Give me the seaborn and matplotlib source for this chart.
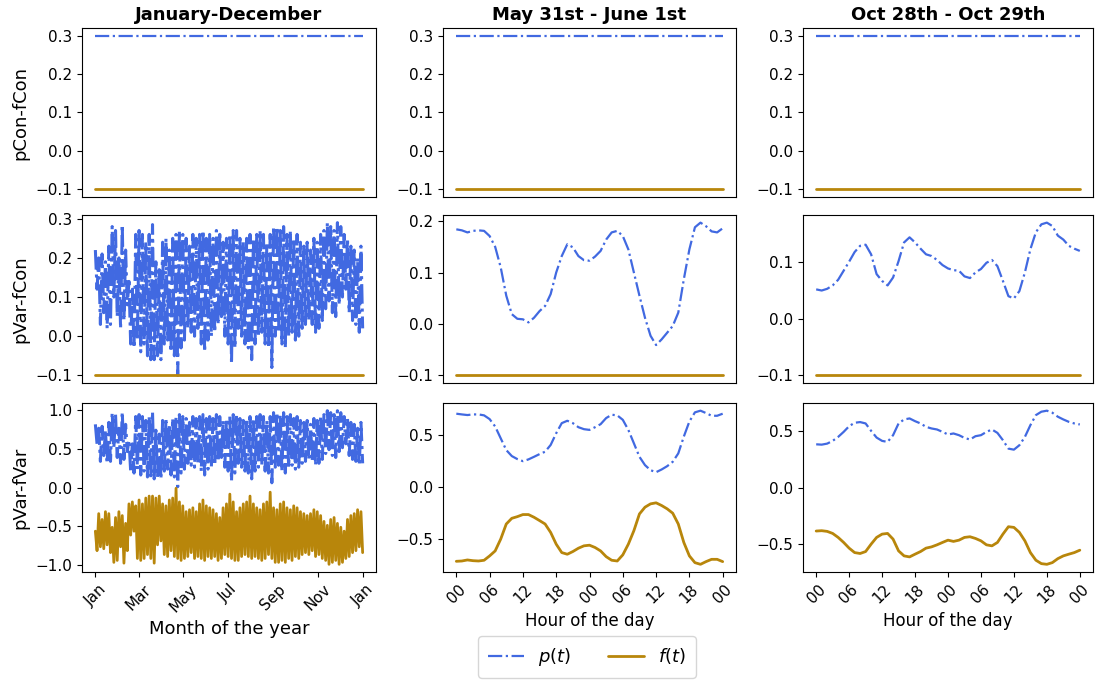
import numpy as np
import pandas as pd
import matplotlib
matplotlib.use("Agg")
import matplotlib.pyplot as plt
import matplotlib.dates as mdates
import seaborn as sns

# ---------------- data ----------------
COL_TITLES = ["January-December", "May 31st - June 1st", "Oct 28th - Oct 29th"]
ROW_LABELS = ["pCon-fCon", "pVar-fCon", "pVar-fVar"]
HOUR_TICKS = [0, 6, 12, 18, 24, 30, 36, 42, 48]
HOUR_LABELS = ["00", "06", "12", "18", "00", "06", "12", "18", "00"]
MONTH_TICKS = [1, 3, 5, 7, 9, 11]
LEGEND_LABELS = ["$p(t)$", "$f(t)$"]

P_CON = 0.3
F_CON = -0.1

# year-long series: envelope (high / low) per ~4.5-day block
YEAR_P2_HI = [.22, .20, .21, .19, .23, .28, .27, .20, .285, .22, .14, .12, .26, .27, .26, .24, .26, .285, .19, .17,
              .24, .25, .22, .25, .26, .27, .26, .25, .23, .26, .25, .26, .27, .25, .26, .25, .27, .26, .24, .25,
              .26, .27, .27, .25, .24, .25, .26, .25, .26, .27, .26, .24, .26, .28, .28, .27, .28, .26, .27, .25,
              .26, .24, .23, .24, .22, .25, .24, .26, .27, .29, .28, .27, .29, .28, .26, .25, .23, .22, .20, .23]
YEAR_P2_LO = [.12, .03, .06, .02, .03, .10, .05, .02, .04, .08, -.02, -.03, -.01, -.04, -.02, -.05, -.06, -.06, -.05, -.06,
              -.02, -.01, -.04, -.05, -.10, -.03, -.01, .02, .01, .00, .02, -.02, -.04, -.01, .00, .01, .03, .05, .00, -.02,
              -.07, -.03, .02, .00, -.02, -.03, -.06, -.02, .00, .01, -.02, -.03, -.08, .00, .01, -.02, -.03, .00, .01, -.01,
              .00, .02, .03, .04, .03, .01, .02, .04, .07, .09, .06, .05, .08, .10, .12, .06, .04, .03, .01, .02]
YEAR_P3_HI = [.81, .76, .785, .735, .835, .96, .935, .76, .97, .81, .61, .56, .91, .935, .91, .86, .91, .97, .735, .685,
              .86, .885, .81, .885, .91, .935, .91, .885, .835, .91, .885, .91, .935, .885, .91, .885, .935, .91, .86, .885,
              .91, .935, .935, .885, .86, .885, .91, .885, .91, .935, .91, .86, .91, .96, .96, .935, .96, .91, .935, .885,
              .91, .86, .835, .86, .81, .885, .86, .91, .935, .985, .96, .935, .985, .96, .91, .885, .835, .81, .76, .835]
YEAR_P3_LO = [.56, .335, .41, .31, .335, .51, .385, .31, .36, .46, .21, .185, .235, .16, .21, .135, .11, .11, .135, .11,
              .21, .235, .16, .135, .01, .185, .235, .31, .285, .26, .31, .21, .16, .235, .26, .285, .335, .385, .26, .21,
              .085, .185, .31, .26, .21, .185, .11, .21, .26, .285, .21, .185, .06, .26, .285, .21, .185, .26, .285, .235,
              .26, .31, .335, .36, .335, .285, .31, .36, .435, .485, .41, .385, .46, .51, .56, .41, .36, .335, .285, .31]
YEAR_F3_HI = [-.56, -.335, -.41, -.31, -.335, -.51, -.385, -.31, -.36, -.46, -.21, -.185, -.235, -.16, -.21, -.135, -.11, -.11, -.135, -.11,
              -.21, -.235, -.16, -.135, -.01, -.185, -.235, -.31, -.285, -.26, -.31, -.21, -.16, -.235, -.26, -.285, -.335, -.385, -.26, -.21,
              -.085, -.185, -.31, -.26, -.21, -.185, -.11, -.21, -.26, -.285, -.21, -.185, -.06, -.26, -.285, -.21, -.185, -.26, -.285, -.235,
              -.26, -.31, -.335, -.36, -.335, -.285, -.31, -.36, -.435, -.485, -.41, -.385, -.46, -.51, -.56, -.41, -.36, -.335, -.285, -.31]
YEAR_F3_LO = [-.81, -.76, -.785, -.735, -.835, -.96, -.935, -.76, -.97, -.81, -.61, -.56, -.91, -.935, -.91, -.86, -.91, -.97, -.735, -.685,
              -.86, -.885, -.81, -.885, -.91, -.935, -.91, -.885, -.835, -.91, -.885, -.91, -.935, -.885, -.91, -.885, -.935, -.91, -.86, -.885,
              -.91, -.935, -.935, -.885, -.86, -.885, -.91, -.885, -.91, -.935, -.91, -.86, -.91, -.96, -.96, -.935, -.96, -.91, -.935, -.885,
              -.91, -.86, -.835, -.86, -.81, -.885, -.86, -.91, -.935, -.985, -.96, -.935, -.985, -.96, -.91, -.885, -.835, -.81, -.76, -.835]

# two-day series, hourly (hour 0 .. 48)
MAY_P2 = [0.184, 0.182, 0.178, 0.181, 0.182, 0.181, 0.171, 0.150, 0.110, 0.055, 0.019, 0.010, 0.009, 0.003, 0.012, 0.025,
          0.035, 0.058, 0.100, 0.132, 0.155, 0.149, 0.132, 0.124, 0.123, 0.131, 0.142, 0.164, 0.178, 0.181, 0.171, 0.145,
          0.100, 0.055, 0.012, -0.023, -0.041, -0.030, -0.017, -0.004, 0.022, 0.087, 0.145, 0.188, 0.197, 0.190, 0.180, 0.178, 0.186]
MAY_P3 = [0.709, 0.702, 0.696, 0.702, 0.702, 0.693, 0.657, 0.586, 0.472, 0.359, 0.301, 0.272, 0.252, 0.269, 0.294, 0.320,
          0.343, 0.408, 0.521, 0.618, 0.641, 0.618, 0.579, 0.560, 0.553, 0.579, 0.608, 0.667, 0.699, 0.693, 0.650, 0.553,
          0.424, 0.294, 0.214, 0.165, 0.146, 0.172, 0.204, 0.246, 0.327, 0.489, 0.634, 0.722, 0.738, 0.715, 0.689, 0.689, 0.709]
MAY_F3 = [-0.712, -0.709, -0.699, -0.706, -0.709, -0.702, -0.660, -0.612, -0.498, -0.353, -0.298, -0.282, -0.262, -0.262, -0.288, -0.320,
          -0.353, -0.434, -0.547, -0.628, -0.644, -0.618, -0.586, -0.563, -0.557, -0.579, -0.612, -0.667, -0.702, -0.709, -0.650, -0.547,
          -0.417, -0.256, -0.191, -0.159, -0.149, -0.175, -0.207, -0.249, -0.353, -0.531, -0.660, -0.725, -0.741, -0.715, -0.693, -0.693, -0.715]
OCT_P2 = [0.052, 0.050, 0.053, 0.059, 0.069, 0.085, 0.101, 0.118, 0.129, 0.131, 0.114, 0.079, 0.067, 0.059, 0.073, 0.102,
          0.135, 0.144, 0.135, 0.124, 0.114, 0.111, 0.104, 0.095, 0.089, 0.086, 0.085, 0.075, 0.072, 0.082, 0.088, 0.099,
          0.104, 0.093, 0.067, 0.040, 0.036, 0.049, 0.082, 0.123, 0.153, 0.167, 0.170, 0.164, 0.147, 0.140, 0.129, 0.124, 0.120]
OCT_P3 = [0.379, 0.376, 0.385, 0.409, 0.444, 0.488, 0.538, 0.568, 0.574, 0.562, 0.497, 0.438, 0.409, 0.400, 0.459, 0.562,
          0.597, 0.606, 0.582, 0.562, 0.532, 0.518, 0.509, 0.488, 0.465, 0.474, 0.459, 0.435, 0.421, 0.450, 0.459, 0.488,
          0.509, 0.479, 0.415, 0.341, 0.332, 0.371, 0.444, 0.547, 0.635, 0.665, 0.674, 0.656, 0.621, 0.597, 0.576, 0.562, 0.553]
OCT_F3 = [-0.382, -0.379, -0.385, -0.403, -0.438, -0.482, -0.532, -0.571, -0.579, -0.562, -0.497, -0.438, -0.409, -0.403, -0.453, -0.556,
          -0.600, -0.609, -0.585, -0.562, -0.532, -0.521, -0.503, -0.482, -0.462, -0.473, -0.462, -0.438, -0.432, -0.447, -0.468, -0.503,
          -0.512, -0.482, -0.409, -0.344, -0.350, -0.394, -0.468, -0.571, -0.638, -0.668, -0.674, -0.659, -0.624, -0.600, -0.585, -0.571, -0.550]

P_COLOR = "#4169E1"
F_COLOR = "#B8860B"

# ---------------- style ----------------
sns.set_style("ticks", rc={"axes.edgecolor": "black", "axes.linewidth": 1.5,
                           "xtick.color": "black", "ytick.color": "black",
                           "text.color": "black", "axes.labelcolor": "black"})
plt.rcParams["font.family"] = ["DejaVu Sans"]
plt.rcParams["xtick.labelsize"] = 11
plt.rcParams["ytick.labelsize"] = 11


def interleave(hi, lo):
    out = np.empty(2 * len(hi))
    out[0::2] = hi
    out[1::2] = lo
    return out


year_p2 = interleave(YEAR_P2_HI, YEAR_P2_LO)
year_p3 = interleave(YEAR_P3_HI, YEAR_P3_LO)
year_f3 = interleave(YEAR_F3_HI, YEAR_F3_LO)
x_year = pd.date_range("2019-01-01 00:00", "2019-12-31 23:00", periods=len(year_p2))
hours = np.arange(len(MAY_P2))

data = {
    (0, 0): (np.full(len(x_year), P_CON), np.full(len(x_year), F_CON)),
    (1, 0): (year_p2, np.full(len(x_year), F_CON)),
    (2, 0): (year_p3, year_f3),
    (0, 1): (np.full(len(hours), P_CON), np.full(len(hours), F_CON)),
    (1, 1): (np.array(MAY_P2), np.full(len(hours), F_CON)),
    (2, 1): (np.array(MAY_P3), np.array(MAY_F3)),
    (0, 2): (np.full(len(hours), P_CON), np.full(len(hours), F_CON)),
    (1, 2): (np.array(OCT_P2), np.full(len(hours), F_CON)),
    (2, 2): (np.array(OCT_P3), np.array(OCT_F3)),
}

W, H = 1097, 689
fig = plt.figure(figsize=(W / 100, H / 100), dpi=100)
col_left = [82, 443, 803]
col_w = [294, 293, 290]
row_top = [28, 215, 403]
row_h = [169, 168, 169]

axes = {}
for r in range(3):
    for c in range(3):
        ax = fig.add_axes([col_left[c] / W, 1 - (row_top[r] + row_h[r]) / H, col_w[c] / W, row_h[r] / H])
        axes[(r, c)] = ax
        p, f = data[(r, c)]
        x = x_year if c == 0 else hours
        dense = (c == 0 and r > 0)
        sns.lineplot(x=x, y=p, ax=ax, color=P_COLOR, linestyle="-.",
                     linewidth=2.2 if dense else 1.6, estimator=None, sort=False)
        sns.lineplot(x=x, y=f, ax=ax, color=F_COLOR, linestyle="-",
                     linewidth=2.0, estimator=None, sort=False)
        if c == 0:
            ax.set_ylabel(ROW_LABELS[r], fontsize=13)
            ax.xaxis.set_major_locator(mdates.MonthLocator(bymonth=MONTH_TICKS))
            ax.xaxis.set_major_formatter(mdates.DateFormatter("%b"))
        else:
            ax.set_ylabel("")
            ax.set_xticks(HOUR_TICKS)
            ax.set_xticklabels(HOUR_LABELS)
        if r == 0:
            ax.set_title(COL_TITLES[c], fontsize=13, fontweight="bold")
        if r < 2:
            ax.set_xticklabels([])
            ax.tick_params(axis="x", length=0)
            ax.set_xlabel("")
        else:
            plt.setp(ax.get_xticklabels(), rotation=45)
            ax.set_xlabel("Month of the year" if c == 0 else "Hour of the day",
                          fontsize=13 if c == 0 else 12)

handles = axes[(0, 0)].get_lines()[:2]
fig.legend(handles, LEGEND_LABELS, loc="lower center", bbox_to_anchor=(0.535, 0.003),
           ncol=2, fontsize=13, columnspacing=2.0, handlelength=2.0, borderpad=0.55)

fig.savefig("out.png", dpi=100)
